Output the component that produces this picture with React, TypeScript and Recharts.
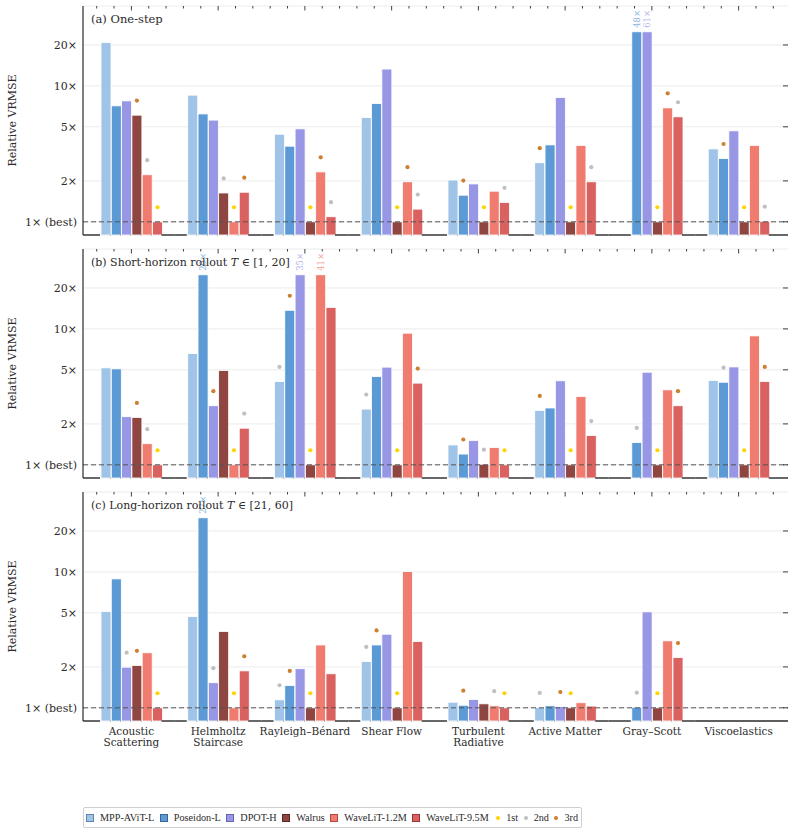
import React from "react";
import { BarChart, Bar, XAxis, YAxis, CartesianGrid, ReferenceLine } from "recharts";

type SeriesKey = "mpp" | "poseidon" | "dpot" | "walrus" | "wl12" | "wl95";
type Values = Record<SeriesKey, (number | null)[]>;

const DATASETS = [
  "Acoustic\nScattering",
  "Helmholtz\nStaircase",
  "Rayleigh–Bénard",
  "Shear Flow",
  "Turbulent\nRadiative",
  "Active Matter",
  "Gray–Scott",
  "Viscoelastics",
];

const SERIES: { key: SeriesKey; name: string; color: string; edge: string }[] = [
  { key: "mpp", name: "MPP-AViT-L", color: "#9fc4e7", edge: "#5f86ad" },
  { key: "poseidon", name: "Poseidon-L", color: "#5b9ad4", edge: "#34689c" },
  { key: "dpot", name: "DPOT-H", color: "#9797e6", edge: "#6464b0" },
  { key: "walrus", name: "Walrus", color: "#8f4641", edge: "#5c2824" },
  { key: "wl12", name: "WaveLiT-1.2M", color: "#f07c70", edge: "#b8493f" },
  { key: "wl95", name: "WaveLiT-9.5M", color: "#d9615f", edge: "#9e3534" },
];

// relative VRMSE, normalised so the best model on each dataset is 1; null = no run
const ONE_STEP: Values = {
  mpp: [20.8, 8.55, 4.41, 5.85, 2.03, 2.72, null, 3.44],
  poseidon: [7.13, 6.22, 3.6, 7.41, 1.57, 3.68, 48, 2.92],
  dpot: [7.76, 5.6, 4.83, 13.3, 1.9, 8.2, 61, 4.67],
  walrus: [6.09, 1.63, 1.0, 1.0, 1.0, 1.0, 1.0, 1.0],
  wl12: [2.22, 1.0, 2.33, 1.97, 1.68, 3.64, 6.89, 3.64],
  wl95: [1.0, 1.65, 1.09, 1.24, 1.39, 1.97, 5.92, 1.01],
};

const SHORT_ROLLOUT: Values = {
  mpp: [5.17, 6.58, 4.1, 2.57, 1.4, 2.51, null, 4.17],
  poseidon: [5.08, 29, 13.7, 4.46, 1.2, 2.62, 1.46, 4.05],
  dpot: [2.26, 2.72, 35, 5.23, 1.51, 4.15, 4.8, 5.25],
  walrus: [2.23, 4.94, 1.0, 1.0, 1.01, 1.0, 1.0, 1.0],
  wl12: [1.43, 1.0, 41, 9.3, 1.34, 3.18, 3.56, 8.88],
  wl95: [1.0, 1.86, 14.4, 3.99, 1.0, 1.64, 2.72, 4.1],
};

const LONG_ROLLOUT: Values = {
  mpp: [5.1, 4.69, 1.145, 2.19, 1.1, 1.005, null, null],
  poseidon: [8.88, 27, 1.46, 2.9, 1.045, 1.035, 1.01, null],
  dpot: [1.99, 1.53, 1.94, 3.48, 1.15, 1.02, 5.08, null],
  walrus: [2.05, 3.64, 1.0, 1.0, 1.07, 1.0, 1.0, null],
  wl12: [2.54, 1.0, 2.9, 10.05, 1.035, 1.09, 3.11, null],
  wl95: [1.0, 1.87, 1.78, 3.07, 1.0, 1.03, 2.34, null],
};

const RANK_COLORS = ["#ffd400", "#c0c0c0", "#cd7f32"];
const RANK_NAMES = ["1st", "2nd", "3rd"];

// bars taller than this are cut and get their value written above
const CLIP_AT = 25;
// medal dots sit this factor above the bar top
const RANK_LIFT = 1.28;

const W = 794;
const PLOT_LEFT = 83;
const PLOT_RIGHT = 788;
const PLOT_TOP = 6;
const PLOT_H = 229;
const PLOT_BOTTOM = PLOT_TOP + PLOT_H;
const Y_DOMAIN: [number, number] = [0.8, 38.7];
const Y_TICKS = [1, 2, 5, 10, 20];
const X_PAD = { left: 5, right: 6 };
const BAR = 10;
const GAP = 0.3;
const BAND = (PLOT_RIGHT - PLOT_LEFT - X_PAD.left - X_PAD.right) / DATASETS.length;
const INK = "#2b2b2b";

function computeRanks(values: Values) {
  return DATASETS.map((_, i) => {
    const sorted = SERIES.map((s) => ({ key: s.key, v: values[s.key][i] }))
      .filter((e) => e.v != null)
      .sort((a, b) => (a.v as number) - (b.v as number));
    const out: Partial<Record<SeriesKey, number>> = {};
    sorted.slice(0, 3).forEach((e, r) => (out[e.key] = r));
    return out;
  });
}

function buildRows(values: Values) {
  return DATASETS.map((name, i) => {
    const row: Record<string, any> = { name, i };
    SERIES.forEach((s) => {
      const v = values[s.key][i];
      row[s.key] = v == null ? null : Math.min(v, CLIP_AT);
    });
    return row;
  });
}

function makeShape(values: Values, ranks: Partial<Record<SeriesKey, number>>[], key: SeriesKey, color: string) {
  return (p: any) => {
    const { x, y, width, height, payload } = p;
    const raw = values[key][payload.i];
    if (raw == null || !(height > 0)) return <g />;
    const cx = x + width / 2;
    const shown = Math.min(raw, CLIP_AT);
    const pxPerDecade = height / Math.log10(shown / Y_DOMAIN[0]);
    const rank = ranks[payload.i][key];
    const ly = y - 4;
    return (
      <g>
        <rect x={x} y={y} width={width} height={height} fill={color} stroke="#fff" strokeWidth={0.8} />
        {rank != null && (
          <circle cx={cx} cy={y - Math.log10(RANK_LIFT) * pxPerDecade} r={2.1} fill={RANK_COLORS[rank]} />
        )}
        {raw > CLIP_AT && (
          <text
            x={cx}
            y={ly}
            transform={`rotate(-90 ${cx} ${ly})`}
            textAnchor="start"
            dominantBaseline="central"
            fontSize={8.5}
            fill={color}
            fillOpacity={0.75}
          >
            {`${raw}×`}
          </text>
        )}
      </g>
    );
  };
}

const ValueTick = (props: any) => {
  const { x, y, payload } = props;
  const v = payload.value;
  return (
    <g>
      <text x={x} y={y} dy="0.36em" textAnchor="end" fontSize={11} fill={INK}>
        {v === 1 ? "1× (best)" : `${v}×`}
      </text>
      <line x1={PLOT_RIGHT - 5} x2={PLOT_RIGHT} y1={y} y2={y} stroke={INK} strokeWidth={0.9} />
    </g>
  );
};

// draws the bottom spine in the gaps between bars, the top tick marks and the dataset names
const CategoryTick = (props: any) => {
  const { x, index, values, showLabel } = props;
  const start = x - BAND / 2;
  const end = x + BAND / 2;
  const groupW = SERIES.length * BAR + (SERIES.length - 1) * GAP;
  const off = Math.floor((BAND - groupW) / 2);
  const covered = SERIES.map((s, k) => ({ s, k }))
    .filter(({ s }) => values[s.key][index] != null)
    .map(({ k }) => {
      const a = start + off + k * (BAR + GAP);
      return [a, a + BAR] as [number, number];
    });
  const segs: [number, number][] = [];
  let cur = index === 0 ? PLOT_LEFT : start;
  covered.forEach(([a, b]) => {
    if (a > cur) segs.push([cur, a]);
    cur = b;
  });
  const last = index === DATASETS.length - 1 ? PLOT_RIGHT : end;
  if (last > cur) segs.push([cur, last]);

  const lines = String(DATASETS[index]).split("\n");
  return (
    <g>
      {segs.map(([a, b], j) => (
        <line key={j} x1={a} x2={b} y1={PLOT_BOTTOM} y2={PLOT_BOTTOM} stroke={INK} strokeWidth={1.4} />
      ))}
      {[-2, -1, 0, 1, 2].map((k) => (
        <line
          key={`t${k}`}
          x1={x + (k * BAND) / 5}
          x2={x + (k * BAND) / 5}
          y1={PLOT_TOP}
          y2={PLOT_TOP + (k === 0 ? 4.5 : 2.5)}
          stroke={INK}
          strokeWidth={0.9}
        />
      ))}
      {showLabel &&
        lines.map((l, j) => (
          <text key={l} x={x} y={PLOT_BOTTOM + 13.5 + j * 11.7} textAnchor="middle" fontSize={10.5} fill={INK}>
            {l}
          </text>
        ))}
    </g>
  );
};

interface PanelProps {
  top: number;
  values: Values;
  showLabels?: boolean;
}

const Panel: React.FC<PanelProps> = ({ top, values, showLabels }) => {
  const rows = buildRows(values);
  const ranks = computeRanks(values);
  const axisH = showLabels ? 42 : 10;
  return (
    <div style={{ position: "absolute", left: 0, top }}>
      <BarChart
        width={W}
        height={PLOT_BOTTOM + axisH}
        data={rows}
        margin={{ top: PLOT_TOP, right: W - PLOT_RIGHT, bottom: 0, left: 0 }}
        barSize={BAR}
        barGap={GAP}
      >
        <CartesianGrid vertical={false} stroke="#ebebeb" strokeWidth={1} />
        <XAxis
          dataKey="name"
          interval={0}
          padding={X_PAD}
          height={axisH}
          axisLine={false}
          tickLine={false}
          tick={<CategoryTick values={values} showLabel={!!showLabels} />}
        />
        <YAxis
          scale="log"
          domain={Y_DOMAIN}
          allowDataOverflow
          ticks={Y_TICKS}
          width={PLOT_LEFT}
          axisLine={{ stroke: INK, strokeWidth: 1.2 }}
          tickLine={false}
          tickSize={0}
          tickMargin={6}
          tick={<ValueTick />}
        />
        {SERIES.map((s) => (
          <Bar
            key={s.key}
            dataKey={s.key}
            name={s.name}
            fill={s.color}
            isAnimationActive={false}
            shape={makeShape(values, ranks, s.key, s.color)}
          />
        ))}
        <ReferenceLine y={1} stroke="#555" strokeDasharray="5 3" strokeWidth={1} />
      </BarChart>
    </div>
  );
};

const PANEL_TOPS = [0, 243, 486];

export default function App() {
  return (
    <div
      style={{
        position: "absolute",
        left: 0,
        top: 0,
        width: W,
        height: 833,
        background: "#fff",
        fontFamily: '"DejaVu Serif", serif',
        color: INK,
      }}
    >
      <Panel top={PANEL_TOPS[0]} values={ONE_STEP} />
      <Panel top={PANEL_TOPS[1]} values={SHORT_ROLLOUT} />
      <Panel top={PANEL_TOPS[2]} values={LONG_ROLLOUT} showLabels />

      <svg width={W} height={833} style={{ position: "absolute", left: 0, top: 0, pointerEvents: "none" }}>
        {PANEL_TOPS.map((t) => {
          const cy = t + PLOT_TOP + PLOT_H / 2;
          return (
            <text
              key={t}
              x={15.5}
              y={cy}
              transform={`rotate(-90 15.5 ${cy})`}
              textAnchor="middle"
              fontSize={11}
              fill={INK}
            >
              Relative VRMSE
            </text>
          );
        })}
        <text x={91} y={PANEL_TOPS[0] + PLOT_TOP + 17} fontSize={11.5} fill={INK}>
          (a) One-step
        </text>
        <text x={91} y={PANEL_TOPS[1] + PLOT_TOP + 17} fontSize={11} fill={INK}>
          (b) Short-horizon rollout <tspan fontStyle="italic">T</tspan> ∈ [1, 20]
        </text>
        <text x={91} y={PANEL_TOPS[2] + PLOT_TOP + 17} fontSize={11} fill={INK}>
          (c) Long-horizon rollout <tspan fontStyle="italic">T</tspan> ∈ [21, 60]
        </text>
      </svg>

      <div
        style={{
          position: "absolute",
          left: 83,
          top: 807,
          height: 19,
          display: "flex",
          alignItems: "center",
          gap: 5.5,
          padding: "0 3px 0 2px",
          border: "1px solid #cfcfcf",
          borderRadius: 2,
          fontFamily: '"Liberation Serif", serif',
          fontSize: 10.2,
          whiteSpace: "nowrap",
        }}
      >
        {SERIES.map((s) => (
          <span key={s.key} style={{ display: "flex", alignItems: "center", gap: 6 }}>
            <span
              style={{ width: 6, height: 6, background: s.color, border: `0.8px solid ${s.edge}`, display: "inline-block" }}
            />
            {s.name}
          </span>
        ))}
        {RANK_NAMES.map((r, k) => (
          <span key={r} style={{ display: "flex", alignItems: "center", gap: 6, marginLeft: k === 0 ? 2 : 0 }}>
            <span
              style={{ width: 4, height: 4, borderRadius: 2, background: RANK_COLORS[k], display: "inline-block" }}
            />
            {r}
          </span>
        ))}
      </div>
    </div>
  );
}
